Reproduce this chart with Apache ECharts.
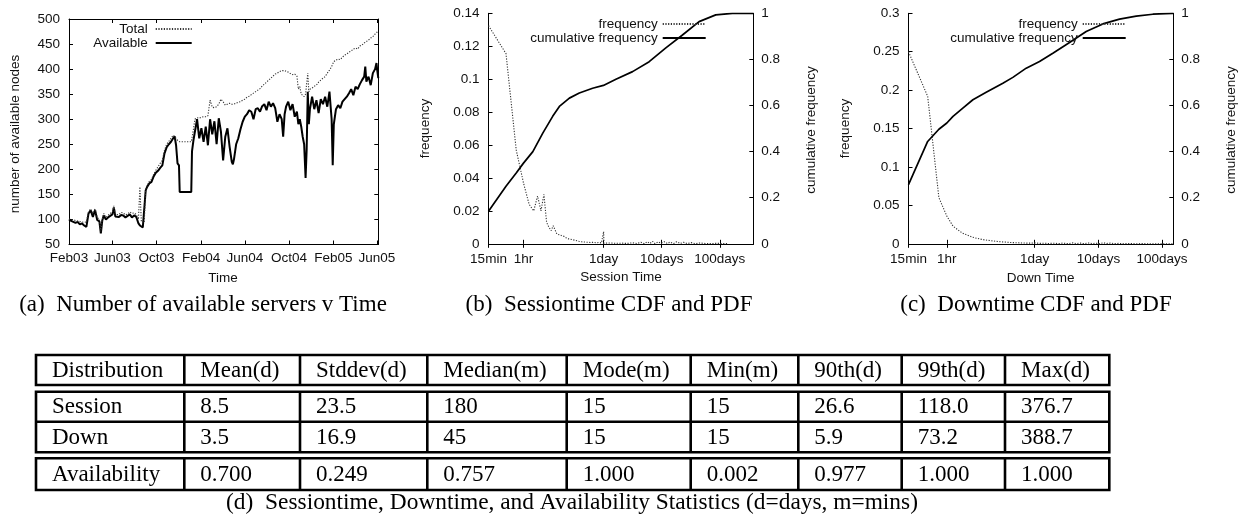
<!DOCTYPE html>
<html>
<head>
<meta charset="utf-8">
<script src="https://cdn.jsdelivr.net/npm/echarts@6/dist/echarts.min.js"></script>
<style>
  html, body { margin: 0; padding: 0; background: #fff; }
  #main { width: 1249px; height: 514px; }
</style>
</head>
<body>
<div id="main"></div>
<script>
// ---------- (a) number of nodes over time; x = days after 1 Feb 2003 ----------
const dayOffsets = [0, 6, 12, 18, 24, 30, 36, 42, 48, 54, 60, 66, 72, 78, 84, 88, 92, 96, 102, 108,
  114, 120, 124, 128, 132, 138, 144, 150, 156, 162, 168, 174, 180, 186, 192, 196, 200, 204, 208, 212,
  216, 222, 228, 234, 240, 246, 252, 258, 264, 270, 276, 282, 288, 292, 296, 300, 304, 306, 318, 330,
  338, 340, 344, 348, 354, 360, 366, 372, 378, 384, 390, 396, 402, 408, 414, 420, 426, 432, 438, 444,
  450, 453, 456, 462, 468, 474, 480, 486, 492, 498, 504, 510, 516, 522, 528, 534, 540, 546, 552, 558,
  564, 570, 576, 582, 588, 592, 596, 600, 606, 612, 618, 624, 630, 634, 638, 642, 646, 650, 654, 657,
  660, 663, 666, 672, 678, 684, 690, 696, 702, 708, 714, 720, 726, 729, 732, 738, 744, 750, 756, 762,
  768, 774, 780, 786, 792, 798, 804, 810, 816, 819, 822, 828, 834, 840, 846, 850, 852, 855];
const totalNodes = [101, 100, 99, 98, 97, 96, 95, 94, 95, 116, 121, 112, 121, 104, 100, 76, 100, 112, 104, 108,
  112, 115, 127, 110, 112, 110, 114, 113, 109, 111, 115, 112, 113, 110, 100, 165, 95, 92, 94, 160,
  168, 176, 180, 190, 198, 205, 212, 218, 238, 250, 256, 262, 268, 270, 262, 258, 256, 255, 255, 255,
  255, 258, 280, 300, 303, 302, 304, 305, 305, 307, 338, 324, 323, 325, 330, 340, 335, 328, 330, 332,
  330, 328, 330, 332, 334, 335, 338, 340, 344, 346, 349, 352, 355, 358, 361, 366, 370, 374, 378, 382,
  386, 390, 392, 395, 397, 398, 397, 396, 394, 391, 389, 390, 386, 360, 365, 350, 348, 345, 350, 352,
  392, 355, 360, 362, 366, 368, 374, 378, 382, 385, 392, 398, 405, 410, 415, 418, 420, 419, 424, 428,
  430, 434, 436, 440, 442, 440, 446, 448, 452, 453, 455, 458, 462, 465, 470, 472, 474, 476];
const availableNodes = [100, 97, 95, 93, 95, 90, 92, 88, 85, 112, 118, 105, 119, 99, 96, 72, 98, 108, 100, 104,
  107, 110, 124, 106, 108, 105, 109, 108, 104, 107, 110, 104, 108, 105, 92, 88, 86, 84, 87, 158,
  165, 172, 175, 186, 193, 197, 203, 208, 232, 244, 250, 255, 262, 266, 248, 212, 208, 155, 155, 155,
  155, 236, 258, 275, 300, 262, 282, 255, 285, 248, 300, 270, 296, 250, 302, 275, 218, 265, 282, 245,
  215, 210, 220, 250, 262, 280, 295, 305, 310, 318, 315, 300, 320, 322, 315, 326, 330, 318, 335, 325,
  332, 322, 295, 310, 300, 265, 310, 325, 335, 318, 330, 305, 315, 290, 300, 285, 265, 250, 183, 240,
  355, 290, 320, 345, 320, 338, 312, 340, 330, 345, 325, 355, 300, 208, 290, 320, 328, 322, 335, 340,
  345, 352, 360, 348, 365, 360, 370, 378, 385, 405, 375, 385, 368, 392, 400, 412, 398, 382];
const timeAxisEndDay = 855;
const timeTickMonths = [[2003, 1], [2003, 5], [2003, 9], [2004, 1], [2004, 5], [2004, 9], [2005, 1], [2005, 5]];
const timeTickLabels = ['Feb03', 'Jun03', 'Oct03', 'Feb04', 'Jun04', 'Oct04', 'Feb05', 'Jun05'];

// ---------- (b), (c) duration distributions; x in minutes, drawn on a log10 scale ----------
const durationTickMinutes = [15, 60, 1440, 14400, 144000];
const durationTickLabels = ['15min', '1hr', '1day', '10days', '100days'];

const sessionFreqMinutes = [15, 30, 45, 60, 75, 90, 105, 120, 135, 150, 165, 180, 195, 210, 225, 240, 270, 300, 330, 360,
  420, 480, 540, 600, 720, 840, 960, 1080, 1200, 1320, 1425, 1440, 1455, 1800, 2400, 3000, 3600, 4500, 5400, 6300,
  7200, 8100, 9000, 10000, 11000, 12500, 14000, 16000, 18000, 20000, 23000, 26000, 30000, 34000, 40000, 46000, 55000, 65000, 80000, 100000,
  130000, 160000, 200000];
const sessionFreq = [0.1325, 0.1155, 0.057, 0.037, 0.024, 0.020, 0.029, 0.020, 0.030, 0.013, 0.010, 0.008, 0.011, 0.0105, 0.006, 0.005, 0.005, 0.0045, 0.0035, 0.003,
  0.0025, 0.002, 0.0015, 0.0012, 0.001, 0.0008, 0.0009, 0.0006, 0.0008, 0.0005, 0.0004, 0.0075, 0.0004, 0.0005, 0.0003, 0.0004, 0.0002, 0.0006, 0.0002, 0.0009,
  0.0001, 0.0012, 0.0002, 0.0015, 0.0001, 0.0011, 0.0003, 0.0013, 0.0002, 0.001, 0.0001, 0.0012, 0.0002, 0.0009, 0.0001, 0.0007, 0.0001, 0.0005, 0.0002, 0.0001,
  0.0003, 0.0001, 0.0001];
const sessionCumMinutes = [15, 30, 45, 60, 87, 129, 191, 249, 370, 549, 930, 1425, 1440, 2343, 4530, 8754, 16940, 32740, 63300, 122400, 236700, 542448];
const sessionCum = [0.141, 0.25, 0.307, 0.35, 0.40, 0.48, 0.553, 0.596, 0.632, 0.654, 0.675, 0.687, 0.695, 0.714, 0.747, 0.79, 0.85, 0.906, 0.964, 0.993, 1.0, 1.0];
const sessionMaxMinutes = 542448; // 376.7 days

const downFreqMinutes = [15, 30, 45, 60, 75, 90, 105, 120, 150, 180, 210, 240, 300, 360, 420, 480, 600, 720, 900, 1080,
  1260, 1440, 1700, 2000, 2400, 2880, 3400, 4000, 4800, 5760, 6500, 7500, 8640, 10000, 11500, 13000, 15000, 17280, 19000, 22000,
  26000, 30000, 36000, 45000, 55000, 70000, 90000, 120000, 150000, 216000];
const downFreq = [0.25, 0.192, 0.06, 0.036, 0.023, 0.018, 0.014, 0.012, 0.0088, 0.007, 0.0058, 0.005, 0.004, 0.0032, 0.0027, 0.0023, 0.0017, 0.0014, 0.0011, 0.0009,
  0.0008, 0.0012, 0.0005, 0.0007, 0.0004, 0.0008, 0.0003, 0.0009, 0.0002, 0.0012, 0.0003, 0.0009, 0.0002, 0.0011, 0.0003, 0.0008, 0.0002, 0.0014, 0.0003, 0.0009,
  0.0002, 0.0006, 0.0001, 0.0004, 0.0001, 0.0002, 0.0001, 0.00005, 0.0001, 0];
const downCumMinutes = [15, 30, 45, 60, 75, 107, 154, 249, 455, 653, 1058, 1713, 2773, 5070, 9262, 16920, 30900, 56500, 103200, 207600, 216000];
const downCum = [0.257, 0.444, 0.497, 0.524, 0.553, 0.589, 0.625, 0.657, 0.697, 0.722, 0.762, 0.791, 0.827, 0.873, 0.921, 0.954, 0.975, 0.988, 0.996, 1.0, 1.0];
const downMaxMinutes = 216000;

// ---------- (d) statistics table ----------
const tableHeader = ['Distribution', 'Mean(d)', 'Stddev(d)', 'Median(m)', 'Mode(m)', 'Min(m)', '90th(d)', '99th(d)', 'Max(d)'];
const sessionStats = ['Session', '8.5', '23.5', '180', '15', '15', '26.6', '118.0', '376.7'];
const downStats = ['Down', '3.5', '16.9', '45', '15', '15', '5.9', '73.2', '388.7'];
const availabilityStats = ['Availability', '0.700', '0.249', '0.757', '1.000', '0.002', '0.977', '1.000', '1.000'];

const captionA = '(a)  Number of available servers v Time';
const captionB = '(b)  Sessiontime CDF and PDF';
const captionC = '(c)  Downtime CDF and PDF';
const captionD = '(d)  Sessiontime, Downtime, and Availability Statistics (d=days, m=mins)';

// ---------- helpers ----------
const SANS = 'Liberation Sans';
const SERIF = 'Liberation Serif';
const INK = '#111';
const FS = 13.5;

const dateOf = d => new Date(2003, 1, 1 + d).getTime();
const timeTicks = timeTickMonths.map(([y, m]) => new Date(y, m, 1).getTime());
const logTicks = durationTickMinutes.map(Math.log10);

const lineStyleAxis = { show: true, lineStyle: { color: '#000', width: 1 } };
const tickInside = (customValues) => ({
  show: true, inside: true, length: 4, lineStyle: { color: '#000', width: 1 },
  ...(customValues ? { customValues } : {})
});
const labelBase = { color: INK, fontSize: FS, fontFamily: SANS };

function timeLabel(v) {
  const i = timeTicks.findIndex(t => Math.abs(t - v) < 43200000);
  return i >= 0 ? timeTickLabels[i] : '';
}
function durationLabel(v) {
  const i = logTicks.findIndex(t => Math.abs(t - v) < 1e-6);
  return i >= 0 ? durationTickLabels[i] : '';
}

function durationAxes(gridIndex, maxMinutes) {
  const base = {
    type: 'value', gridIndex,
    min: Math.log10(15), max: Math.log10(maxMinutes),
    splitLine: { show: false }, axisLine: lineStyleAxis
  };
  return [
    { ...base, position: 'bottom', axisTick: tickInside(logTicks),
      axisLabel: { ...labelBase, margin: 8, customValues: logTicks, formatter: durationLabel } },
    { ...base, position: 'top', axisTick: tickInside(logTicks), axisLabel: { show: false } }
  ];
}
function freqAxes(gridIndex, maxFreq, step) {
  return [
    { type: 'value', gridIndex, position: 'left', min: 0, max: maxFreq, interval: step,
      splitLine: { show: false }, axisLine: lineStyleAxis, axisTick: tickInside(),
      axisLabel: { ...labelBase, margin: 9 } },
    { type: 'value', gridIndex, position: 'right', min: 0, max: 1, interval: 0.2,
      splitLine: { show: false }, axisLine: lineStyleAxis, axisTick: tickInside(),
      axisLabel: { ...labelBase, margin: 8 } }
  ];
}

const dottedStyle = { color: '#333', width: 1.1, type: [1.2, 1.5] };
const solidStyle = { color: '#000', width: 1.7 };
const markerOff = { color: '#000', opacity: 0 };

// ---------- table + captions + axis titles as graphic elements ----------
const colX = [36, 184.3, 300, 427.3, 566.7, 690.7, 798.3, 901.7, 1005, 1109.3];
const boxes = [[355, 385], [391.7, 452.3], [458.3, 490]];
const rowBands = [[355, 385], [391.7, 421.7], [421.7, 452.3], [458.3, 490]];
const tableRows = [tableHeader, sessionStats, downStats, availabilityStats];

const graphics = [];
const stroke = { stroke: '#000', lineWidth: 2.6 };
boxes.forEach(([y0, y1]) => {
  graphics.push({ type: 'rect', shape: { x: colX[0], y: y0, width: colX[9] - colX[0], height: y1 - y0 },
    style: { fill: 'none', ...stroke } });
  for (let c = 1; c < colX.length - 1; c++) {
    graphics.push({ type: 'line', shape: { x1: colX[c], y1: y0, x2: colX[c], y2: y1 }, style: { ...stroke } });
  }
});
graphics.push({ type: 'line', shape: { x1: colX[0], y1: 421.7, x2: colX[9], y2: 421.7 }, style: { ...stroke } });
tableRows.forEach((row, r) => {
  const yc = (rowBands[r][0] + rowBands[r][1]) / 2;
  row.forEach((txt, c) => {
    graphics.push({ type: 'text', x: colX[c] + 16, y: yc + 0.5,
      style: { text: txt, fill: '#000', fontSize: 23, fontFamily: SERIF,
        align: 'left', verticalAlign: 'middle', textAlign: 'left', textVerticalAlign: 'middle' } });
  });
});

function serifText(txt, x, y, size) {
  return { type: 'text', x, y, style: { text: txt, fill: '#000', fontSize: size || 23, fontFamily: SERIF,
    align: 'center', verticalAlign: 'middle', textAlign: 'center', textVerticalAlign: 'middle' } };
}
graphics.push(serifText(captionA, 203, 305));
graphics.push(serifText(captionB, 609, 305));
graphics.push(serifText(captionC, 1036, 305));
graphics.push(serifText(captionD, 572, 503, 23.4));

function sansText(txt, x, y, rotate) {
  return { type: 'text', x, y, rotation: rotate ? Math.PI / 2 : 0,
    style: { text: txt, fill: INK, fontSize: FS, fontFamily: SANS,
      align: 'center', verticalAlign: 'middle', textAlign: 'center', textVerticalAlign: 'middle' } };
}
graphics.push(sansText('number of available nodes', 15, 134, true));
graphics.push(sansText('Time', 223, 278));
graphics.push(sansText('frequency', 425, 128.5, true));
graphics.push(sansText('cumulative frequency', 811.7, 130, true));
graphics.push(sansText('Session Time', 621, 277));
graphics.push(sansText('frequency', 845, 128.5, true));
graphics.push(sansText('cumulative frequency', 1231.7, 130, true));
graphics.push(sansText('Down Time', 1040.7, 278));

// ---------- legends (line sample only, no marker) ----------
function legendAt(names, right, top, itemWidth, padRight) {
  return {
    data: names, orient: 'vertical', align: 'right', right, top, padding: 0,
    itemWidth, itemHeight: 14, itemGap: 0, selectedMode: false,
    itemStyle: { opacity: 0, borderWidth: 0 },
    textStyle: { color: INK, fontSize: FS, fontFamily: SANS, lineHeight: 13, padding: [0, padRight, 0, 0] }
  };
}

const chart = echarts.init(document.getElementById('main'), null, { renderer: 'canvas' });
chart.setOption({
  animation: false,
  backgroundColor: '#fff',
  textStyle: { fontFamily: SANS },
  grid: [
    { left: 69, top: 19, width: 309.3, height: 225.5, containLabel: false, outerBoundsMode: 'none' },
    { left: 488.5, top: 13.3, width: 264.8, height: 230.5, containLabel: false, outerBoundsMode: 'none' },
    { left: 908.5, top: 13.3, width: 264.8, height: 230.5, containLabel: false, outerBoundsMode: 'none' }
  ],
  legend: [
    legendAt(['Total', 'Available'], 1249 - 192.7, 22, 36, 3),
    legendAt(['frequency', 'cumulative frequency'], 1249 - 706.7, 17, 43, 0),
    legendAt(['frequency', 'cumulative frequency'], 1249 - 1126.7, 17, 43, 0)
  ],
  xAxis: [
    { type: 'value', gridIndex: 0, position: 'bottom', min: dateOf(0), max: dateOf(timeAxisEndDay),
      splitLine: { show: false }, axisLine: lineStyleAxis, axisTick: tickInside(timeTicks),
      axisLabel: { ...labelBase, margin: 7, customValues: timeTicks, formatter: timeLabel } },
    { type: 'value', gridIndex: 0, position: 'top', min: dateOf(0), max: dateOf(timeAxisEndDay),
      splitLine: { show: false }, axisLine: lineStyleAxis, axisTick: tickInside(timeTicks),
      axisLabel: { show: false } },
    ...durationAxes(1, sessionMaxMinutes),
    ...durationAxes(2, downMaxMinutes)
  ],
  yAxis: [
    { type: 'value', gridIndex: 0, position: 'left', min: 50, max: 500, interval: 50,
      splitLine: { show: false }, axisLine: lineStyleAxis, axisTick: tickInside(),
      axisLabel: { ...labelBase, margin: 9 } },
    { type: 'value', gridIndex: 0, position: 'right', min: 50, max: 500, interval: 50,
      splitLine: { show: false }, axisLine: lineStyleAxis, axisTick: tickInside(),
      axisLabel: { show: false } },
    ...freqAxes(1, 0.14, 0.02),
    ...freqAxes(2, 0.3, 0.05)
  ],
  series: [
    { name: 'Total', type: 'line', xAxisIndex: 0, yAxisIndex: 0, symbol: 'none', itemStyle: markerOff,
      data: dayOffsets.map((d, i) => [dateOf(d), totalNodes[i]]), lineStyle: dottedStyle, z: 3 },
    { name: 'Available', type: 'line', xAxisIndex: 0, yAxisIndex: 0, symbol: 'none', itemStyle: markerOff,
      data: dayOffsets.map((d, i) => [dateOf(d), availableNodes[i]]), lineStyle: { color: '#000', width: 2 }, z: 2 },
    { name: 'frequency', type: 'line', xAxisIndex: 2, yAxisIndex: 2, symbol: 'none', itemStyle: markerOff,
      data: sessionFreqMinutes.map((m, i) => [Math.log10(m), sessionFreq[i]]), lineStyle: dottedStyle },
    { name: 'cumulative frequency', type: 'line', xAxisIndex: 2, yAxisIndex: 3, symbol: 'none', itemStyle: markerOff,
      data: sessionCumMinutes.map((m, i) => [Math.log10(m), sessionCum[i]]), lineStyle: solidStyle },
    { name: 'frequency', type: 'line', xAxisIndex: 4, yAxisIndex: 4, symbol: 'none', itemStyle: markerOff,
      data: downFreqMinutes.map((m, i) => [Math.log10(m), downFreq[i]]), lineStyle: dottedStyle },
    { name: 'cumulative frequency', type: 'line', xAxisIndex: 4, yAxisIndex: 5, symbol: 'none', itemStyle: markerOff,
      data: downCumMinutes.map((m, i) => [Math.log10(m), downCum[i]]), lineStyle: solidStyle }
  ],
  graphic: { elements: graphics }
});
</script>
</body>
</html>
